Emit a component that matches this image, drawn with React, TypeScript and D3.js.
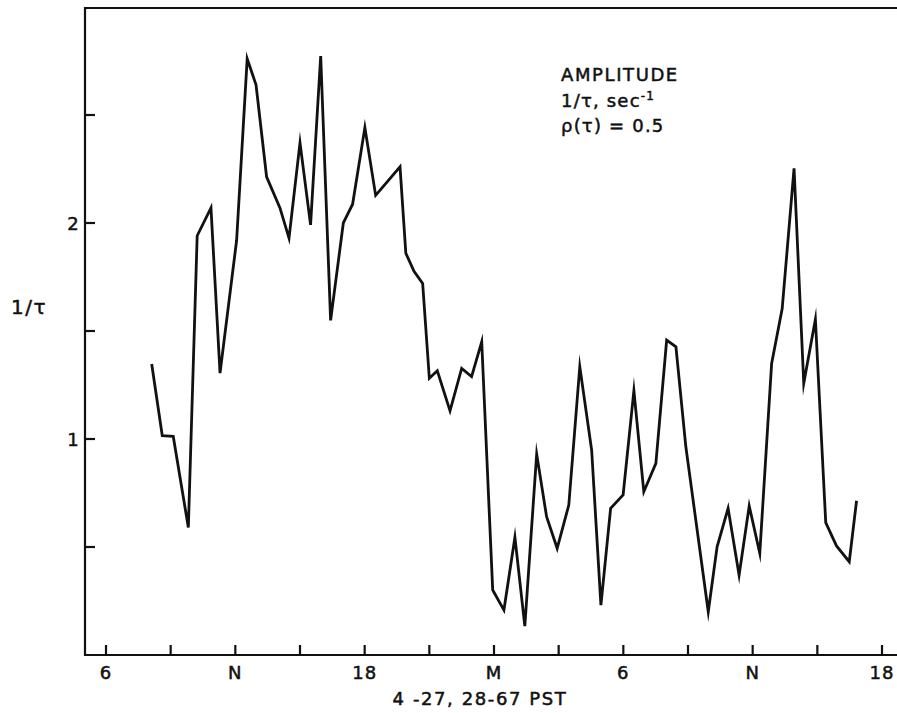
import React from "react";
import * as d3 from "d3";

// time in hours from 0h on 4-27 (6 = 06 PST, 24 = midnight, 36 = noon on 4-28)
const hours = [
  8.12, 8.61, 9.12, 9.82, 10.23, 10.87, 11.29, 12.06, 12.55, 12.96, 13.45, 14.07, 14.49,
  15.0, 15.49, 15.96, 16.42, 17.01, 17.44, 18.01, 18.51, 19.64, 19.91, 20.29, 20.69,
  21.0, 21.37, 21.96, 22.5, 22.96, 23.43, 23.94, 24.46, 24.97, 25.43, 25.98, 26.44,
  26.93, 27.47, 27.98, 28.53, 28.96, 29.41, 29.99, 30.49, 30.95, 31.51, 32.01, 32.44,
  32.9, 33.94, 34.35, 34.86, 35.37, 35.84, 36.33, 36.88, 37.37, 37.92, 38.37, 38.91,
  39.39, 39.89, 40.48, 40.82,
];
const invTau = [
  1.347, 1.015, 1.012, 0.59, 1.941, 2.07, 1.305, 1.92, 2.76, 2.64, 2.214, 2.07, 1.93,
  2.371, 1.991, 2.773, 1.549, 2.0, 2.087, 2.442, 2.128, 2.26, 1.86, 1.776, 1.72,
  1.281, 1.316, 1.13, 1.327, 1.289, 1.45, 0.301, 0.208, 0.545, 0.134, 0.93, 0.64,
  0.494, 0.694, 1.335, 0.949, 0.231, 0.679, 0.741, 1.224, 0.756, 0.887, 1.458, 1.427,
  0.964, 0.2, 0.501, 0.679, 0.37, 0.69, 0.471, 1.35, 1.604, 2.253, 1.258, 1.554,
  0.613, 0.505, 0.432, 0.714,
];
const xTicks = [6, 9, 12, 15, 18, 21, 24, 27, 30, 33, 36, 39, 42];
const xTickLabels: Record<number, string> = { 6: "6", 12: "N", 18: "18", 24: "M", 30: "6", 36: "N", 42: "18" };
const yTicks = [0.5, 1, 1.5, 2, 2.5];
const yTickLabels: Record<number, string> = { 1: "1", 2: "2" };

const W = 897;
const H = 713;
const left = 85;
const right = 897;
const top = 8;
const bottom = 655;

export default function App() {
  const x = d3.scaleLinear().domain([6, 42]).range([106, 882]);
  const y = d3.scaleLinear().domain([0, 3]).range([bottom, bottom - 216 * 3]);
  const pts: [number, number][] = hours.map((h, i) => [h, invTau[i]]);
  const line = d3
    .line<[number, number]>()
    .x((d) => x(d[0]))
    .y((d) => y(d[1]));
  const font = "'DejaVu Sans', sans-serif";
  const fs = 18;
  return (
    <svg width={W} height={H} style={{ position: "absolute", left: 0, top: 0, background: "#fff" }}>
      <g fill="none" stroke="#111" strokeWidth={2.2}>
        <line x1={left} y1={top} x2={right} y2={top} />
        <line x1={left} y1={top - 1} x2={left} y2={bottom + 1} />
        <line x1={left} y1={bottom} x2={right} y2={bottom} />
        {xTicks.map((t) => (
          <line key={"xt" + t} x1={x(t)} x2={x(t)} y1={bottom} y2={bottom - 10} />
        ))}
        {yTicks.map((t) => (
          <line key={"yt" + t} x1={left} x2={left + 10} y1={y(t)} y2={y(t)} />
        ))}
      </g>
      <path d={line(pts) || ""} fill="none" stroke="#111" strokeWidth={2.8} strokeLinejoin="miter" strokeMiterlimit={10} />
      <g fontFamily={font} fontSize={fs} fill="#111" stroke="#111" strokeWidth={0.5}>
        {xTicks
          .filter((t) => xTickLabels[t])
          .map((t) => (
            <text key={"xl" + t} x={x(t)} y={679} textAnchor="middle" letterSpacing={1}>
              {xTickLabels[t]}
            </text>
          ))}
        {yTicks
          .filter((t) => yTickLabels[t])
          .map((t) => (
            <text key={"yl" + t} x={73} y={y(t) + 7} textAnchor="middle">
              {yTickLabels[t]}
            </text>
          ))}
        <text x={480} y={705} textAnchor="middle" letterSpacing={1.6}>4 -27, 28-67 PST</text>
        <text x={29} y={314} textAnchor="middle" fontSize={20} letterSpacing={1.5}>1/τ</text>
        <text x={561} y={81} letterSpacing={1.6}>AMPLITUDE</text>
        <text x={561} y={107} letterSpacing={1.2}>
          1/τ, sec<tspan dy={-7} fontSize={12}>-1</tspan>
        </text>
        <text x={561} y={132} letterSpacing={1.2}>ρ(τ) = 0.5</text>
      </g>
    </svg>
  );
}
